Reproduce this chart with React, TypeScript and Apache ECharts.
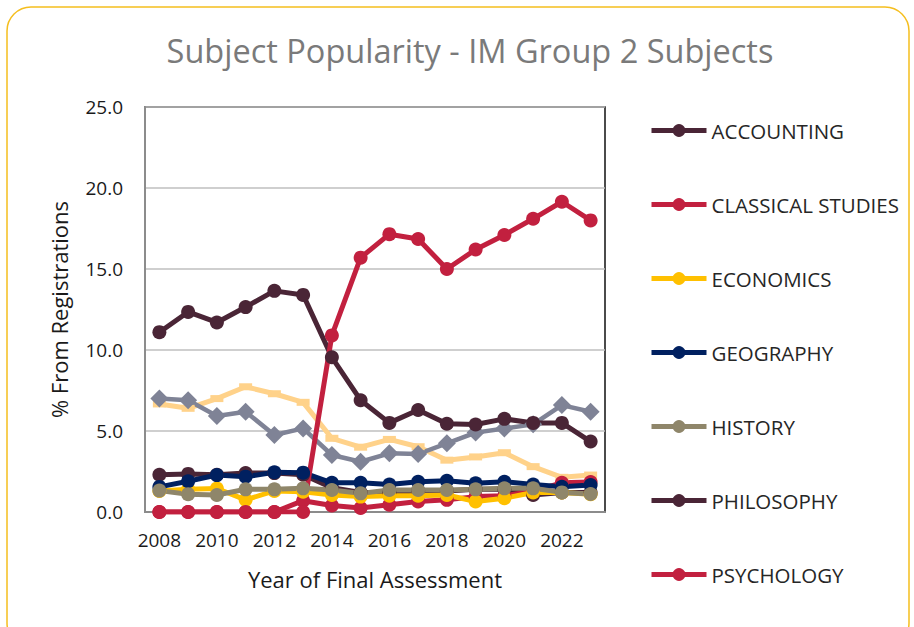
import React, { useEffect, useRef } from "react";
import * as echarts from "echarts";

const years = ["2008","2009","2010","2011","2012","2013","2014","2015","2016","2017","2018","2019","2020","2021","2022","2023"];

const accounting = [2.3, 2.35, 2.3, 2.4, 2.4, 2.3, 1.5, 1.2, 1.2, 1.3, 1.3, 1.4, 1.4, 1.05, 1.2, 1.2];
const classicalStudies = [0, 0, 0, 0, 0, 0.7, 0.4, 0.25, 0.45, 0.65, 0.75, 0.95, 1.0, 1.3, 1.8, 1.85];
const economics = [1.3, 1.4, 1.45, 0.75, 1.3, 1.25, 1.05, 0.95, 1.0, 1.0, 1.05, 0.65, 0.85, 1.2, 1.2, 1.1];
const geography = [1.55, 1.9, 2.28, 2.18, 2.45, 2.43, 1.8, 1.8, 1.7, 1.87, 1.93, 1.77, 1.87, 1.7, 1.56, 1.67];
const history = [1.32, 1.1, 1.05, 1.4, 1.4, 1.46, 1.36, 1.15, 1.36, 1.36, 1.36, 1.4, 1.46, 1.46, 1.21, 1.11];
const philosophy = [11.1, 12.35, 11.7, 12.65, 13.65, 13.4, 9.55, 6.9, 5.5, 6.3, 5.45, 5.4, 5.75, 5.5, 5.5, 4.35];
const psychology = [0, 0, 0, 0, 0, 0, 10.9, 15.7, 17.15, 16.85, 15.0, 16.2, 17.1, 18.1, 19.15, 18.0];
const unlabelledA = [6.67, 6.4, 7.0, 7.73, 7.3, 6.77, 4.55, 4.0, 4.48, 4.03, 3.2, 3.4, 3.66, 2.8, 2.14, 2.28];
const unlabelledB = [7.0, 6.9, 5.93, 6.19, 4.75, 5.16, 3.52, 3.1, 3.62, 3.58, 4.24, 4.9, 5.16, 5.41, 6.6, 6.19];

const yTicks = [0, 5, 10, 15, 20, 25];
const legendNames = ["ACCOUNTING", "CLASSICAL STUDIES", "ECONOMICS", "GEOGRAPHY", "HISTORY", "PHILOSOPHY", "PSYCHOLOGY"];

const FONT = "Open Sans";

export default function App() {
  const ref = useRef<HTMLDivElement>(null);
  useEffect(() => {
    if (!ref.current) return;
    const chart = echarts.init(ref.current, null, { renderer: "svg" });
    const mk = (name: string, data: number[], color: string, symbol = "circle", symbolSize: any = 14, lw = 5) => ({
      name,
      type: "line",
      data,
      symbol,
      symbolSize,
      showSymbol: true,
      lineStyle: { color, width: lw },
      itemStyle: { color },
      emphasis: { disabled: true },
    });
    chart.setOption({
      animation: false,
      backgroundColor: "#ffffff",
      title: {
        text: "Subject Popularity - IM Group 2 Subjects",
        left: 465,
        top: 29,
        textAlign: "center",
        textStyle: { fontFamily: FONT, fontSize: 32.5, fontWeight: "normal", color: "#7a7a7a" },
      },
      graphic: [
        {
          type: "rect",
          shape: { x: 7, y: 7, width: 902, height: 640, r: 24 },
          style: { fill: "none", stroke: "#F5BE1E", lineWidth: 1.5 },
          silent: true,
        },
      ],
      grid: {
        left: 145,
        right: 309,
        top: 107,
        bottom: 115,
        show: true,
        borderColor: "#111",
        borderWidth: 1.5,
      },
      legend: {
        data: legendNames,
        orient: "vertical",
        left: 649,
        top: 120,
        padding: 0,
        itemWidth: 55,
        itemHeight: 16,
        itemGap: 53,
        lineStyle: { width: 5 },
        textStyle: { fontFamily: FONT, fontSize: 20.5, color: "#262626" },
      },
      xAxis: {
        type: "category",
        data: years,
        boundaryGap: true,
        axisLine: { lineStyle: { color: "#8c8c8c", width: 2 } },
        axisTick: { show: false },
        axisLabel: { interval: 1, fontFamily: FONT, fontSize: 19, color: "#1a1a1a", margin: 18 },
        name: "Year of Final Assessment",
        nameLocation: "middle",
        nameGap: 56,
        nameTextStyle: { fontFamily: FONT, fontSize: 22, color: "#1a1a1a" },
      },
      yAxis: {
        type: "value",
        min: yTicks[0],
        max: yTicks[yTicks.length - 1],
        interval: 5,
        axisLine: { show: true, lineStyle: { color: "#8c8c8c", width: 2 } },
        axisTick: { show: false },
        splitLine: { lineStyle: { color: "#bfbfbf", width: 1.5 } },
        axisLabel: { fontFamily: FONT, fontSize: 19, color: "#1a1a1a", margin: 22, formatter: (v: number) => v.toFixed(1) },
        name: "% From Registrations",
        nameLocation: "middle",
        nameGap: 75,
        nameTextStyle: { fontFamily: FONT, fontSize: 22, color: "#1a1a1a" },
      },
      series: [
        mk("Unlabelled A", unlabelledA, "#FFD28A", "rect", [13, 7], 5),
        mk("Unlabelled B", unlabelledB, "#7F8396", "diamond", 18, 4.5),
        mk("ACCOUNTING", accounting, "#4A2536"),
        mk("CLASSICAL STUDIES", classicalStudies, "#C2203F"),
        mk("ECONOMICS", economics, "#FFC000"),
        mk("GEOGRAPHY", geography, "#002060"),
        mk("HISTORY", history, "#8F866A"),
        mk("PHILOSOPHY", philosophy, "#4A2536"),
        mk("PSYCHOLOGY", psychology, "#C2203F"),
      ],
    });
    return () => chart.dispose();
  }, []);
  return <div ref={ref} style={{ position: "fixed", left: 0, top: 0, width: 914, height: 627 }} />;
}
